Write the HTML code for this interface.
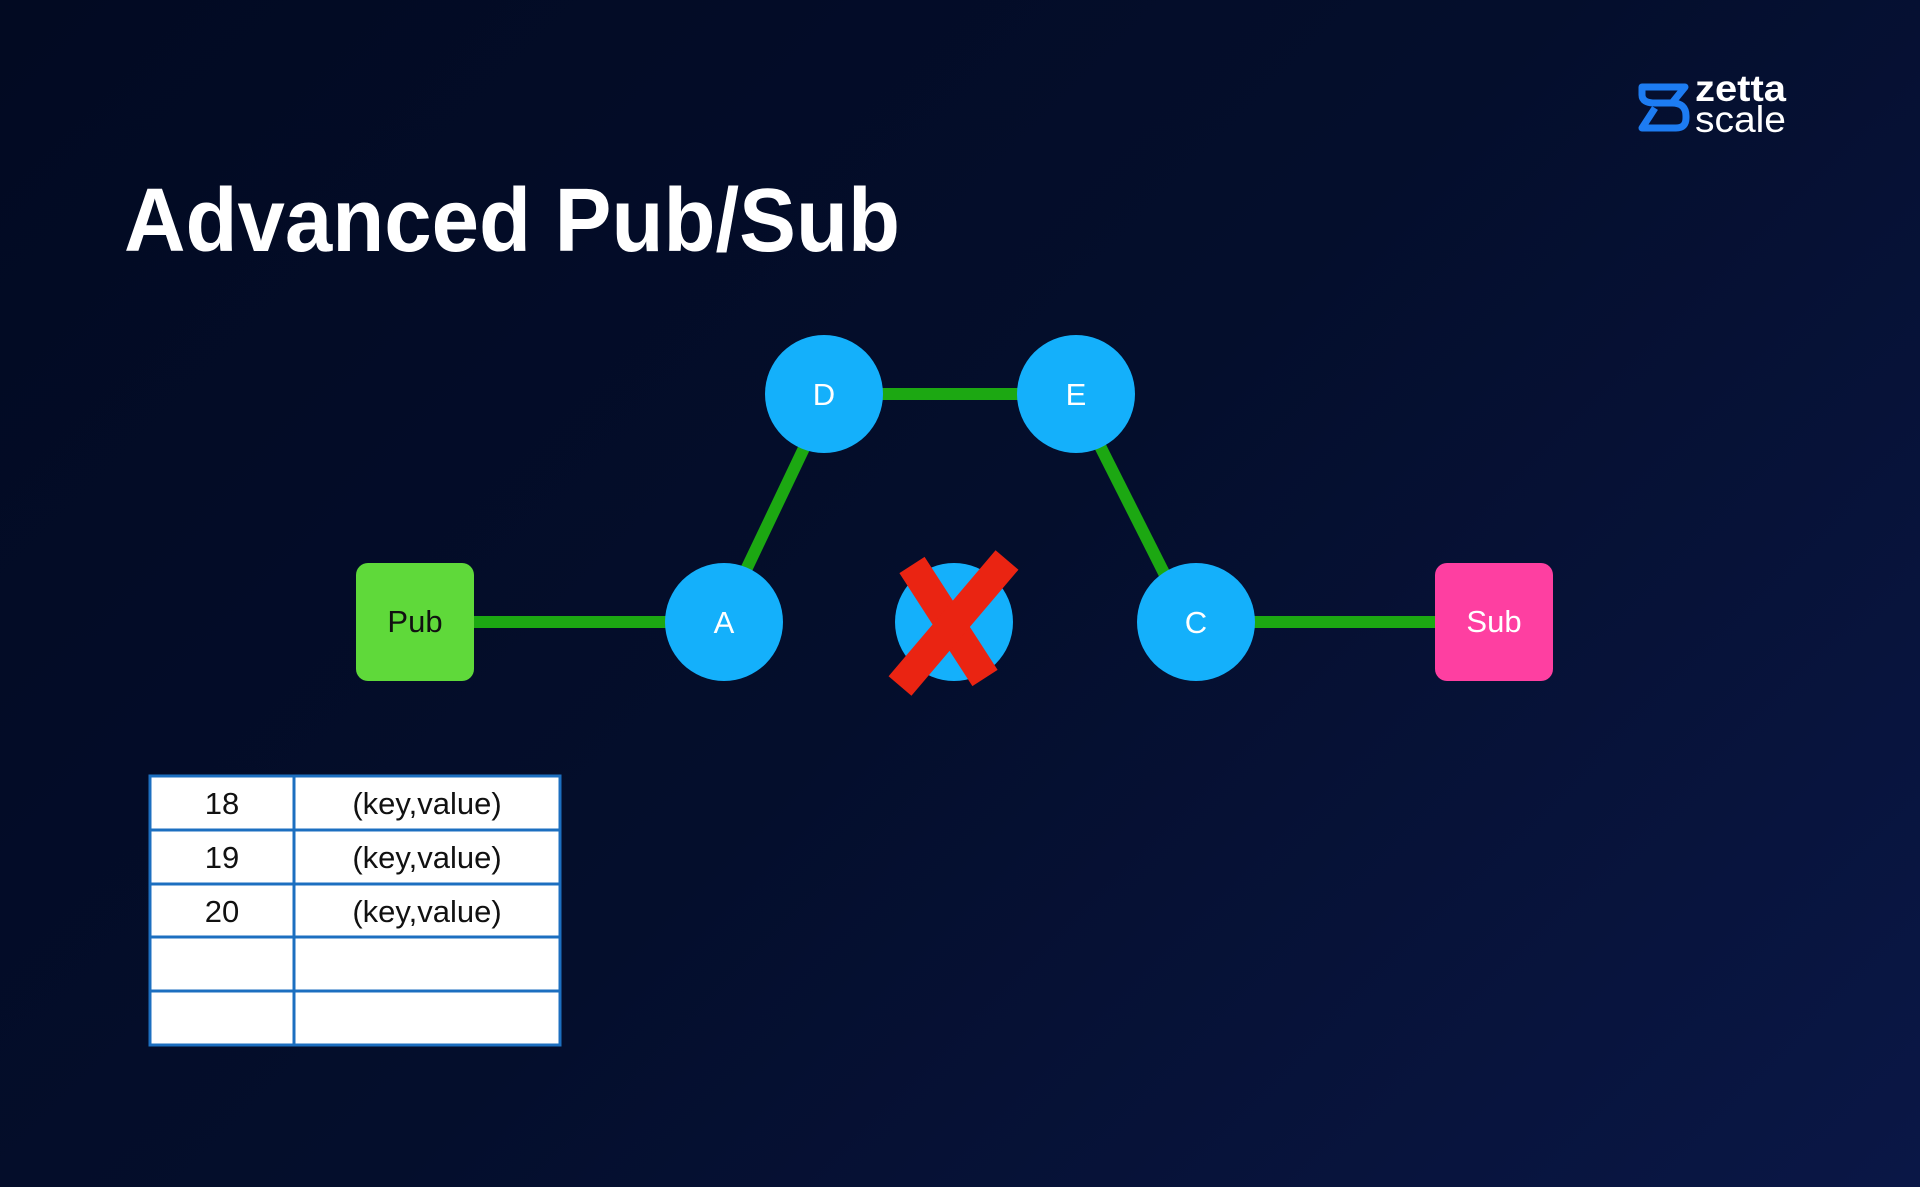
<!DOCTYPE html>
<html><head><style>
html,body{margin:0;padding:0}
body{width:1920px;height:1187px;overflow:hidden;background:linear-gradient(135deg,#020a22 0%,#040e2c 50%,#0a1746 100%);font-family:"Liberation Sans",Arial,sans-serif;position:relative}
</style></head><body>
<svg width="1920" height="1187" style="position:absolute;left:0;top:0">
<text x="124" y="251" fill="#fff" font-family="Liberation Sans, sans-serif" font-weight="bold" font-size="90" textLength="776" lengthAdjust="spacingAndGlyphs">Advanced Pub/Sub</text>
<!-- logo -->
<g fill="none" stroke="#1d7cf2" stroke-width="7" stroke-linejoin="round">
<path d="M1642 87 H1685 L1672 103 H1655 Q1642 103 1642 95 Z"/>
<path d="M1655 103 H1672 Q1686 103 1686 116 V118 Q1686 128 1676 128 H1642 L1655 108"/>
</g>
<text x="1695" y="101" fill="#fff" font-size="37" font-weight="bold" font-family="Liberation Sans, sans-serif" textLength="91" lengthAdjust="spacingAndGlyphs">zetta</text>
<text x="1695" y="132" fill="#fff" font-size="37" font-family="Liberation Sans, sans-serif" textLength="91" lengthAdjust="spacingAndGlyphs">scale</text>
<!-- lines -->
<g stroke="#1ca812" stroke-width="12" fill="none">
<line x1="470" y1="622" x2="670" y2="622"/>
<line x1="745" y1="572" x2="805" y2="446"/>
<line x1="880" y1="394" x2="1020" y2="394"/>
<line x1="1100" y1="446" x2="1165" y2="575"/>
<line x1="1250" y1="622" x2="1440" y2="622"/>
</g>
<rect x="356" y="563" width="118" height="118" rx="12" fill="#5fd93a"/>
<text x="415" y="632" text-anchor="middle" font-size="31" fill="#111">Pub</text>
<rect x="1435" y="563" width="118" height="118" rx="12" fill="#fe3fa1"/>
<text x="1494" y="632" text-anchor="middle" font-size="31" fill="#fff">Sub</text>
<g fill="#14b0fb">
<circle cx="824" cy="394" r="59"/><circle cx="1076" cy="394" r="59"/>
<circle cx="724" cy="622" r="59"/><circle cx="954" cy="622" r="59"/><circle cx="1196" cy="622" r="59"/>
</g>
<g fill="#fff" font-size="31" text-anchor="middle">
<text x="824" y="405">D</text><text x="1076" y="405">E</text>
<text x="724" y="633">A</text><text x="1196" y="633">C</text>
</g>
<g stroke="#ea2412" stroke-width="30" stroke-linecap="butt">
<line x1="912" y1="565" x2="985" y2="678"/>
<line x1="1007" y1="560" x2="900" y2="686"/>
</g>
<!-- table -->
<rect x="150" y="776" width="410" height="269" fill="#fff" stroke="#1c6fc0" stroke-width="3"/>
<g stroke="#1c6fc0" stroke-width="3">
<line x1="294" y1="776" x2="294" y2="1045"/>
<line x1="150" y1="830" x2="560" y2="830"/>
<line x1="150" y1="884" x2="560" y2="884"/>
<line x1="150" y1="937" x2="560" y2="937"/>
<line x1="150" y1="991" x2="560" y2="991"/>
</g>
<g font-size="31" fill="#111" text-anchor="middle">
<text x="222" y="814">18</text><text x="427" y="814">(key,value)</text>
<text x="222" y="868">19</text><text x="427" y="868">(key,value)</text>
<text x="222" y="922">20</text><text x="427" y="922">(key,value)</text>
</g>
</svg>
</body></html>
